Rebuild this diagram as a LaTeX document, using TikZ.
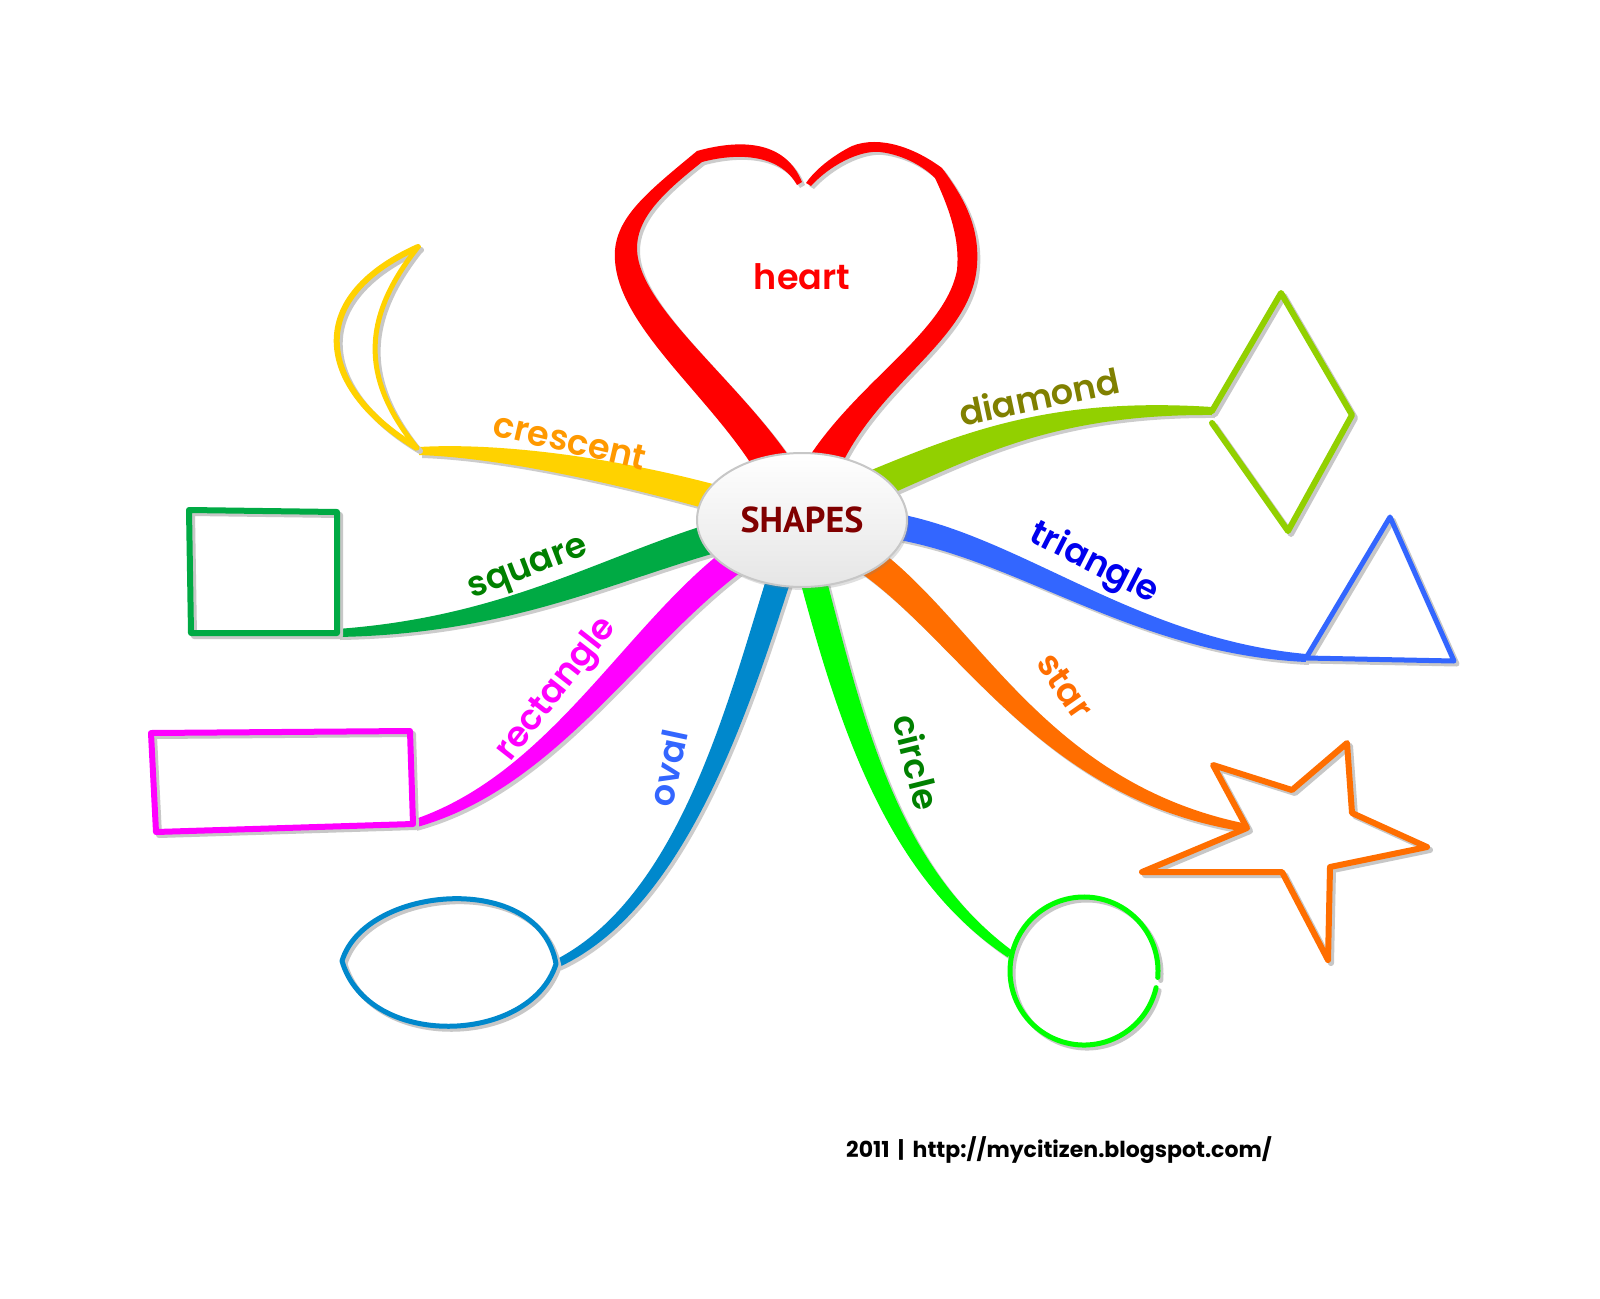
\documentclass[tikz,border=0pt]{standalone}
\usepackage{fontspec}
\setmainfont{Poppins}
\newfontfamily\labelfont{Poppins SemiBold}
\newfontfamily\titlefont{PT Sans}
\usetikzlibrary{calc, shapes.geometric, shadows}

\definecolor{heartc}{HTML}{FF0000}
\definecolor{crescentc}{HTML}{FFD200}
\definecolor{crescentt}{HTML}{FF9900}
\definecolor{diamondc}{HTML}{92D000}
\definecolor{diamondt}{HTML}{808000}
\definecolor{trianglec}{HTML}{3366FF}
\definecolor{trianglet}{HTML}{0000EE}
\definecolor{squarec}{HTML}{00AA44}
\definecolor{squaret}{HTML}{008000}
\definecolor{rectanglec}{HTML}{FF00FF}
\definecolor{starc}{HTML}{FF6E00}
\definecolor{ovalc}{HTML}{0088CC}
\definecolor{ovalt}{HTML}{3366FF}
\definecolor{circlec}{HTML}{00FF00}
\definecolor{circlet}{HTML}{008000}
\definecolor{titlec}{HTML}{800000}

% tapered branch: colour, start, control 1, control 2, end, half width
\newcommand{\branch}[6]{
    \coordinate (bs) at #2;
    \coordinate (ba) at #3;
    \coordinate (bb) at #4;
    \coordinate (be) at #5;
    \coordinate (bsl) at ($(bs)!#6!90:(ba)$);
    \coordinate (bsr) at ($(bs)!#6!-90:(ba)$);
    \coordinate (bel) at ($(be)!4pt!-90:(bb)$);
    \coordinate (ber) at ($(be)!4pt!90:(bb)$);
    \coordinate (bal) at ($(ba)+(bsl)-(bs)$);
    \coordinate (bar) at ($(ba)+(bsr)-(bs)$);
    \coordinate (bbl) at ($(bb)!0.6*#6!90:(be)$);
    \coordinate (bbr) at ($(bb)!0.6*#6!-90:(be)$);
    \fill[shadowfill] (bsl) .. controls (bal) and (bbl) .. (bel) -- (ber) .. controls (bbr) and (bar) .. (bsr) -- cycle;
    \fill[#1] (bsl) .. controls (bal) and (bbl) .. (bel) -- (ber) .. controls (bbr) and (bar) .. (bsr) -- cycle;
}

% outline with its grey copy: line width, colour, path
\newcommand{\outline}[3][6]{
    \draw[shapeline, line width=#1, shadowline] #3;
    \draw[shapeline, line width=#1, draw=#2] #3;
}

\begin{document}
\begin{tikzpicture}[
        x=1pt, y=-1pt,
        shadowfill/.style={fill=black!20, transform canvas={shift={(3,3)}}},
        shadowline/.style={draw=black!22, transform canvas={shift={(3,3)}}},
        shapeline/.style={line join=round, line cap=round},
        centre/.style={ellipse, draw=black!22, line width=2pt, top color=white, bottom color=black!10,
            minimum width=210pt, minimum height=134pt, text=titlec,
            drop shadow={opacity=0.25, shadow xshift=2pt, shadow yshift=-3pt},
            font=\titlefont\bfseries\fontsize{36}{40}\selectfont},
        branchtext/.style={font=\labelfont\fontsize{35}{40}\selectfont},
        footer/.style={font=\bfseries\fontsize{22}{26}\selectfont}
    ]
    \fill[white] (0,0) rectangle (1600,1298);
    \useasboundingbox (0,0) rectangle (1600,1298);

    % heart
    \fill[shadowfill] (755,470) .. controls (705,390) and (610,320) .. (615,250) .. controls (618,215) and (650,190) .. (697,151) .. controls (740,139) and (785,140) .. (802,182) -- (797,185) .. controls (780,155) and (740,152) .. (702,162) .. controls (660,195) and (636,220) .. (637,250) .. controls (640,310) and (745,385) .. (798,470) -- cycle;
    \fill[heartc] (755,470) .. controls (705,390) and (610,320) .. (615,250) .. controls (618,215) and (650,190) .. (697,151) .. controls (740,139) and (785,140) .. (802,182) -- (797,185) .. controls (780,155) and (740,152) .. (702,162) .. controls (660,195) and (636,220) .. (637,250) .. controls (640,310) and (745,385) .. (798,470) -- cycle;
    \fill[shadowfill] (839,470) .. controls (880,380) and (972,340) .. (977,265) .. controls (980,225) and (962,195) .. (942,168) .. controls (915,148) and (880,135) .. (852,146) .. controls (832,156) and (815,170) .. (806,183) -- (811,186) .. controls (830,165) and (860,150) .. (880,152) .. controls (905,155) and (925,168) .. (935,178) .. controls (950,210) and (960,240) .. (957,270) .. controls (945,335) and (850,385) .. (801,470) -- cycle;
    \fill[heartc] (839,470) .. controls (880,380) and (972,340) .. (977,265) .. controls (980,225) and (962,195) .. (942,168) .. controls (915,148) and (880,135) .. (852,146) .. controls (832,156) and (815,170) .. (806,183) -- (811,186) .. controls (830,165) and (860,150) .. (880,152) .. controls (905,155) and (925,168) .. (935,178) .. controls (950,210) and (960,240) .. (957,270) .. controls (945,335) and (850,385) .. (801,470) -- cycle;

    % branches
    \branch{crescentc}{(740,505)}{(620,470)}{(500,450)}{(419,451)}{13pt}
    \branch{diamondc}{(850,495)}{(960,450)}{(1040,405)}{(1212,411)}{15pt}
    \branch{trianglec}{(860,522)}{(1000,530)}{(1120,645)}{(1306,658)}{13pt}
    \branch{squarec}{(750,528)}{(620,560)}{(520,625)}{(337,633)}{15pt}
    \branch{rectanglec}{(755,545)}{(640,620)}{(560,780)}{(413,824)}{14pt}
    \branch{ovalc}{(785,560)}{(745,680)}{(690,900)}{(556,964)}{12pt}
    \branch{circlec}{(808,560)}{(850,720)}{(890,870)}{(1010,954)}{13pt}
    \branch{starc}{(845,545)}{(960,610)}{(1030,790)}{(1247,828)}{15pt}

    % shapes
    \outline[6]{crescentc}{(417,448) .. controls (320,390) and (300,300) .. (418,247)}
    \outline[5]{crescentc}{(418,247) .. controls (360,320) and (362,380) .. (417,448)}
    \outline[6]{diamondc}{(1212,411) -- (1281,293) -- (1352,415) -- (1288,531) -- (1212,423)}
    \outline[5]{trianglec}{(1306,658) -- (1390,517) -- (1454,661) -- cycle}
    \outline[6]{squarec}{(337,633) -- (337,512) -- (189,510) -- (191,633) -- cycle}
    \outline[6]{rectanglec}{(413,824) -- (410,731) -- (151,733) -- (156,832) -- cycle}
    \outline[5]{ovalc}{(342,961) .. controls (365,885) and (540,870) .. (556,964) .. controls (530,1045) and (368,1050) .. (342,961)}
    \outline[5]{circlec}{(1084,971) ++(195:74) arc[start angle=195, end angle=365, radius=74] (1084,971) ++(373:74) arc[start angle=373, end angle=555, radius=74]}
    \outline[6]{starc}{(1247,828) -- (1213,765) -- (1292,790) -- (1347,743) -- (1352,813) -- (1427,847) -- (1330,867) -- (1328,960) -- (1282,872) -- (1142,872) -- cycle}

    % centre
    \node[centre] (shapes) at (802,520) {SHAPES};

    % labels
    \node[branchtext, text=heartc] (lheart) at (802,277) {heart};
    \node[branchtext, text=crescentt, rotate=-13] (lcrescent) at (570,441) {crescent};
    \node[branchtext, text=diamondt, rotate=12] (ldiamond) at (1039,396) {diamond};
    \node[branchtext, text=trianglet, rotate=-27] (ltriangle) at (1094,564) {triangle};
    \node[branchtext, text=squaret, rotate=21] (lsquare) at (529,571) {square};
    \node[branchtext, text=rectanglec, rotate=52] (lrectangle) at (557,690) {rectangle};
    \node[branchtext, text=ovalt, rotate=78] (loval) at (668,768) {oval};
    \node[branchtext, text=circlet, rotate=-76] (lcircle) at (917,762) {circle};
    \node[branchtext, text=starc, rotate=-55] (lstar) at (1065,686) {star};

    \node[footer] (credit) at (1059,1150) {2011 \,|\, http://mycitizen.blogspot.com/};
\end{tikzpicture}
\end{document}
